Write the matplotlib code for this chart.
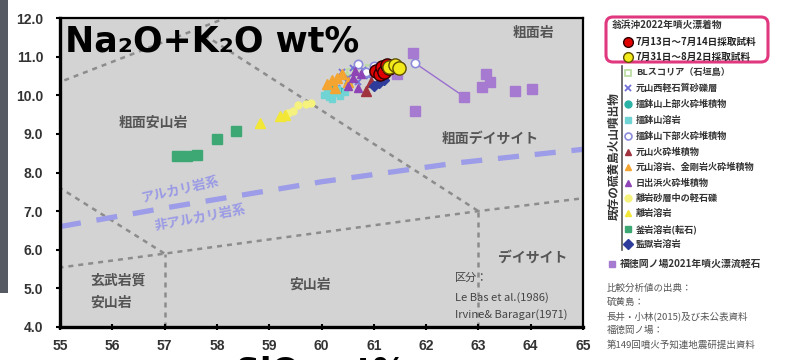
import matplotlib.pyplot as plt
from matplotlib.patches import FancyBboxPatch, Rectangle

plt.rcParams['font.family'] = ['Noto Sans CJK JP', 'DejaVu Sans']

# TAS boundaries (Le Bas et al. 1986), wt%
tas_lines = [
    [(53, 9.3), (57.6, 11.7)],
    [(57.6, 11.7), (61, 13.5)],
    [(57.6, 11.7), (63, 7)],
    [(53, 9.3), (57, 5.9)],
    [(52, 5), (57, 5.9), (63, 7), (69, 8)],
    [(57, 4), (57, 5.9)],
    [(63, 4), (63, 7)],
]
# alkaline / subalkaline divide (Irvine & Baragar 1971)
alk_x = [55, 57, 60, 62.6, 65]
alk_y = [6.6, 7.08, 7.76, 8.25, 8.6]

# existing Iwo-to volcanic products
bl_x = [60.55, 60.9, 60.45]
bl_y = [10.6, 10.7, 10.5]
motoyama_w_x = [60.3, 60.4, 60.6, 60.7, 60.8, 60.9, 60.5]
motoyama_w_y = [10.2, 10.6, 10.7, 10.35, 10.65, 10.5, 10.45]
suri_up_x = [60.2, 60.5, 60.35]
suri_up_y = [10.25, 10.3, 10.1]
suri_lava_x = [60.05, 60.15, 60.25, 60.35, 60.1, 60.45, 60.3, 60.2]
suri_lava_y = [10.0, 9.95, 10.05, 9.98, 10.12, 10.08, 10.15, 9.9]
suri_low_x = [60.7, 61.0, 60.85, 61.78]
suri_low_y = [10.8, 10.75, 10.6, 10.84]
motoyama_p_x = [60.85, 60.95]
motoyama_p_y = [10.12, 10.35]
motoyama_l_x = [60.1, 60.3, 60.4, 60.2, 60.5, 60.25]
motoyama_l_y = [10.3, 10.45, 10.55, 10.4, 10.35, 10.2]
hidehama_x = [60.5, 60.6, 60.75, 60.7, 60.65]
hidehama_y = [10.25, 10.45, 10.55, 10.2, 10.62]
hanare_pm_x = [59.35, 59.45, 59.55, 59.7, 59.8]
hanare_pm_y = [9.55, 9.6, 9.75, 9.78, 9.8]
hanare_lava_x = [58.82, 59.2, 59.3]
hanare_lava_y = [9.27, 9.45, 9.5]
kama_x = [57.24, 57.43, 57.62, 58.0, 58.37]
kama_y = [8.43, 8.43, 8.45, 8.87, 9.08]
kangoku_x = [61.0, 61.1, 61.2]
kangoku_y = [10.25, 10.32, 10.4]
# Fukutoku-Okanoba 2021 pumice
fuku_x = [61.75, 61.45, 61.79, 62.73, 63.07, 63.15, 63.22, 63.7, 64.02]
fuku_y = [11.1, 10.55, 9.6, 9.96, 10.22, 10.55, 10.35, 10.12, 10.16]
fuku_line_x = [61.78, 62.73]
fuku_line_y = [10.84, 9.96]
# 2022 drift pumice off Okinahama
jul13_x = [61.05, 61.12, 61.15, 61.2, 61.25, 61.3]
jul13_y = [10.62, 10.55, 10.72, 10.6, 10.78, 10.7]
jul31_x = [61.3, 61.4, 61.48]
jul31_y = [10.72, 10.78, 10.7]

series = [
    ('BLスコリア（石垣島）', bl_x, bl_y, dict(marker='s', ms=5, mfc='none', mec='#b8dca0', mew=1.2)),
    ('元山西軽石質砂礫層', motoyama_w_x, motoyama_w_y, dict(marker='x', ms=5, mec='#7070d8', mew=1.3)),
    ('擂鉢山上部火砕堆積物', suri_up_x, suri_up_y, dict(marker='o', ms=5, mfc='#2ab3a6', mec='#2ab3a6')),
    ('擂鉢山溶岩', suri_lava_x, suri_lava_y, dict(marker='s', ms=5, mfc='#70d4d4', mec='#70d4d4')),
    ('擂鉢山下部火砕堆積物', suri_low_x, suri_low_y, dict(marker='o', ms=6, mfc='white', mec='#8c8cdc', mew=1.2)),
    ('元山火砕堆積物', motoyama_p_x, motoyama_p_y, dict(marker='^', ms=7, mfc='#a0323e', mec='#a0323e')),
    ('元山溶岩、金剛岩火砕堆積物', motoyama_l_x, motoyama_l_y, dict(marker='^', ms=7, mfc='#f4a430', mec='#f4a430')),
    ('日出浜火砕堆積物', hidehama_x, hidehama_y, dict(marker='^', ms=6, mfc='#8e44b4', mec='#8e44b4')),
    ('離岩砂層中の軽石礫', hanare_pm_x, hanare_pm_y, dict(marker='o', ms=5, mfc='#f6f27e', mec='#f6f27e')),
    ('離岩溶岩', hanare_lava_x, hanare_lava_y, dict(marker='^', ms=7, mfc='#f2e636', mec='#f2e636')),
    ('釜岩溶岩(転石)', kama_x, kama_y, dict(marker='s', ms=7, mfc='#3ea874', mec='#3ea874')),
    ('監獄岩溶岩', kangoku_x, kangoku_y, dict(marker='D', ms=5, mfc='#2e3c9c', mec='#2e3c9c')),
]
fuku_style = dict(marker='s', ms=7, mfc='#a77ad2', mec='#a77ad2')
jul13_style = dict(marker='o', ms=9.5, mfc='#e00000', mec='#300000', mew=1.0)
jul31_style = dict(marker='o', ms=9.5, mfc='#f2ea1a', mec='#605000', mew=1.0)

fig = plt.figure(figsize=(7.89, 3.6), dpi=100)
ax = fig.add_axes([60 / 789, 33 / 360, 523 / 789, 309 / 360])
ax.set_facecolor('#d3d3d3')

for seg in tas_lines:
    ax.plot([p[0] for p in seg], [p[1] for p in seg], color='#8c8c8c', lw=1.8,
            ls=(0, (2, 2)), zorder=1)
ax.plot(alk_x, alk_y, color='#9c9ce8', lw=3.8, ls=(0, (4, 3)), zorder=1)

ax.plot(fuku_line_x, fuku_line_y, color='#9a6fd0', lw=1.0, zorder=2)
for name, xs, ys, st in series:
    ax.plot(xs, ys, ls='none', zorder=3, **st)
ax.plot(fuku_x, fuku_y, ls='none', zorder=3, **fuku_style)
ax.plot(jul13_x, jul13_y, ls='none', zorder=4, **jul13_style)
ax.plot(jul31_x, jul31_y, ls='none', zorder=5, **jul31_style)

ax.set_xlim(55, 65)
ax.set_ylim(4, 12)
ax.set_xticks(range(55, 66))
ax.set_yticks([4, 5, 6, 7, 8, 9, 10, 11, 12])
ax.set_yticklabels(['%.1f' % v for v in [4, 5, 6, 7, 8, 9, 10, 11, 12]])
tick_font = dict(family=['Liberation Sans Narrow', 'Liberation Sans'], weight='bold', size=10)
for lab in ax.get_xticklabels() + ax.get_yticklabels():
    lab.set_fontproperties(tick_font)
    lab.set_color('#333333')
ax.tick_params(axis='x', direction='inout', length=4, width=1.5, pad=7)
ax.tick_params(axis='y', direction='out', length=3, width=1.5, pad=9)
for side in ['left', 'bottom']:
    ax.spines[side].set_linewidth(2.4)
for side in ['top', 'right']:
    ax.spines[side].set_linewidth(1.6)

# the slide crop cuts the x label, only its top shows
ax.set_xlabel('SiO₂ wt%', fontsize=24, fontweight='bold', family='DejaVu Sans',
              labelpad=2)
ax.text(55.1, 11.38, 'Na₂O+K₂O wt%', fontsize=25, fontweight='bold', family='DejaVu Sans',
        va='center', ha='left', zorder=6)

grey = '#555555'
ax.text(56.78, 9.28, '粗面安山岩', fontsize=10, fontweight='bold', color=grey, ha='center', va='center')
ax.text(64.05, 11.6, '粗面岩', fontsize=10, fontweight='bold', color=grey, ha='center', va='center')
ax.text(63.22, 8.87, '粗面デイサイト', fontsize=10, fontweight='bold', color=grey, ha='center', va='center')
ax.text(55.57, 5.19, '玄武岩質', fontsize=10, fontweight='bold', color=grey, ha='left', va='center')
ax.text(55.57, 4.62, '安山岩', fontsize=10, fontweight='bold', color=grey, ha='left', va='center')
ax.text(59.78, 5.09, '安山岩', fontsize=10, fontweight='bold', color=grey, ha='center', va='center')
ax.text(64.04, 5.79, 'デイサイト', fontsize=10, fontweight='bold', color=grey, ha='center', va='center')
ax.text(57.3, 7.55, 'アルカリ岩系', fontsize=9.5, fontweight='bold', color='#9a9ae6',
        ha='center', va='center', rotation=12.5)
ax.text(57.68, 6.83, '非アルカリ岩系', fontsize=9.5, fontweight='bold', color='#9a9ae6',
        ha='center', va='center', rotation=10.5)
ax.text(62.55, 5.27, '区分：', fontsize=8, color='#444444', va='center')
ax.text(62.55, 4.75, 'Le Bas et al.(1986)', fontsize=8, color='#444444', va='center')
ax.text(62.55, 4.31, 'Irvine& Baragar(1971)', fontsize=8, color='#444444', va='center')

# overlay in pixel units for the legend panel and slide edge
ov = fig.add_axes([0, 0, 1, 1], zorder=10)
ov.set_xlim(0, 789)
ov.set_ylim(360, 0)
ov.axis('off')
ov.patch.set_alpha(0)
ov.add_patch(Rectangle((0, 0), 8, 293, color='#565b63', lw=0))

ov.add_patch(FancyBboxPatch((606, 17), 162, 45, boxstyle='round,pad=0,rounding_size=7',
                            fc='white', ec='#e0377f', lw=2.2))
ov.text(612, 25, '翁浜沖2022年噴火漂着物', fontsize=7, fontweight='bold', color='#333333', va='center')
ov.plot([628], [42], ls='none', **dict(jul13_style, ms=7))
ov.text(636, 42, '7月13日～7月14日採取試料', fontsize=6.9, fontweight='bold', color='#222222', va='center')
ov.plot([628], [57], ls='none', **dict(jul31_style, ms=7))
ov.text(636, 57, '7月31日～8月2日採取試料', fontsize=6.9, fontweight='bold', color='#222222', va='center')

ov.plot([622, 622], [66, 250], color='#555555', lw=1.2)
ov.text(614, 156, '既存の硫黄島火山噴出物', rotation=90, fontsize=8.4, fontweight='bold',
        color='#333333', ha='center', va='center')
row_y = [73, 88, 104, 120, 136, 152, 167, 183, 198, 213, 229, 244]
for (name, xs, ys, st), yy in zip(series, row_y):
    ov.plot([628], [yy], ls='none', **dict(st, ms=min(st['ms'], 5)))
    ov.text(636, yy, name, fontsize=6.6, fontweight='bold', color='#333333', va='center')
ov.plot([612], [264], ls='none', **dict(fuku_style, ms=5))
ov.text(620, 264, '福徳岡ノ場2021年噴火漂流軽石', fontsize=7.1, fontweight='bold', color='#333333', va='center')

sources = ['比較分析値の出典：', '硫黄島：', '長井・小林(2015)及び未公表資料',
           '福徳岡ノ場：', '第149回噴火予知連地震研提出資料']
for s, yy in zip(sources, [288, 302, 316, 330, 345]):
    ov.text(607, yy, s, fontsize=6.8, color='#555555', va='center')

fig.savefig('out.png', dpi=100)
